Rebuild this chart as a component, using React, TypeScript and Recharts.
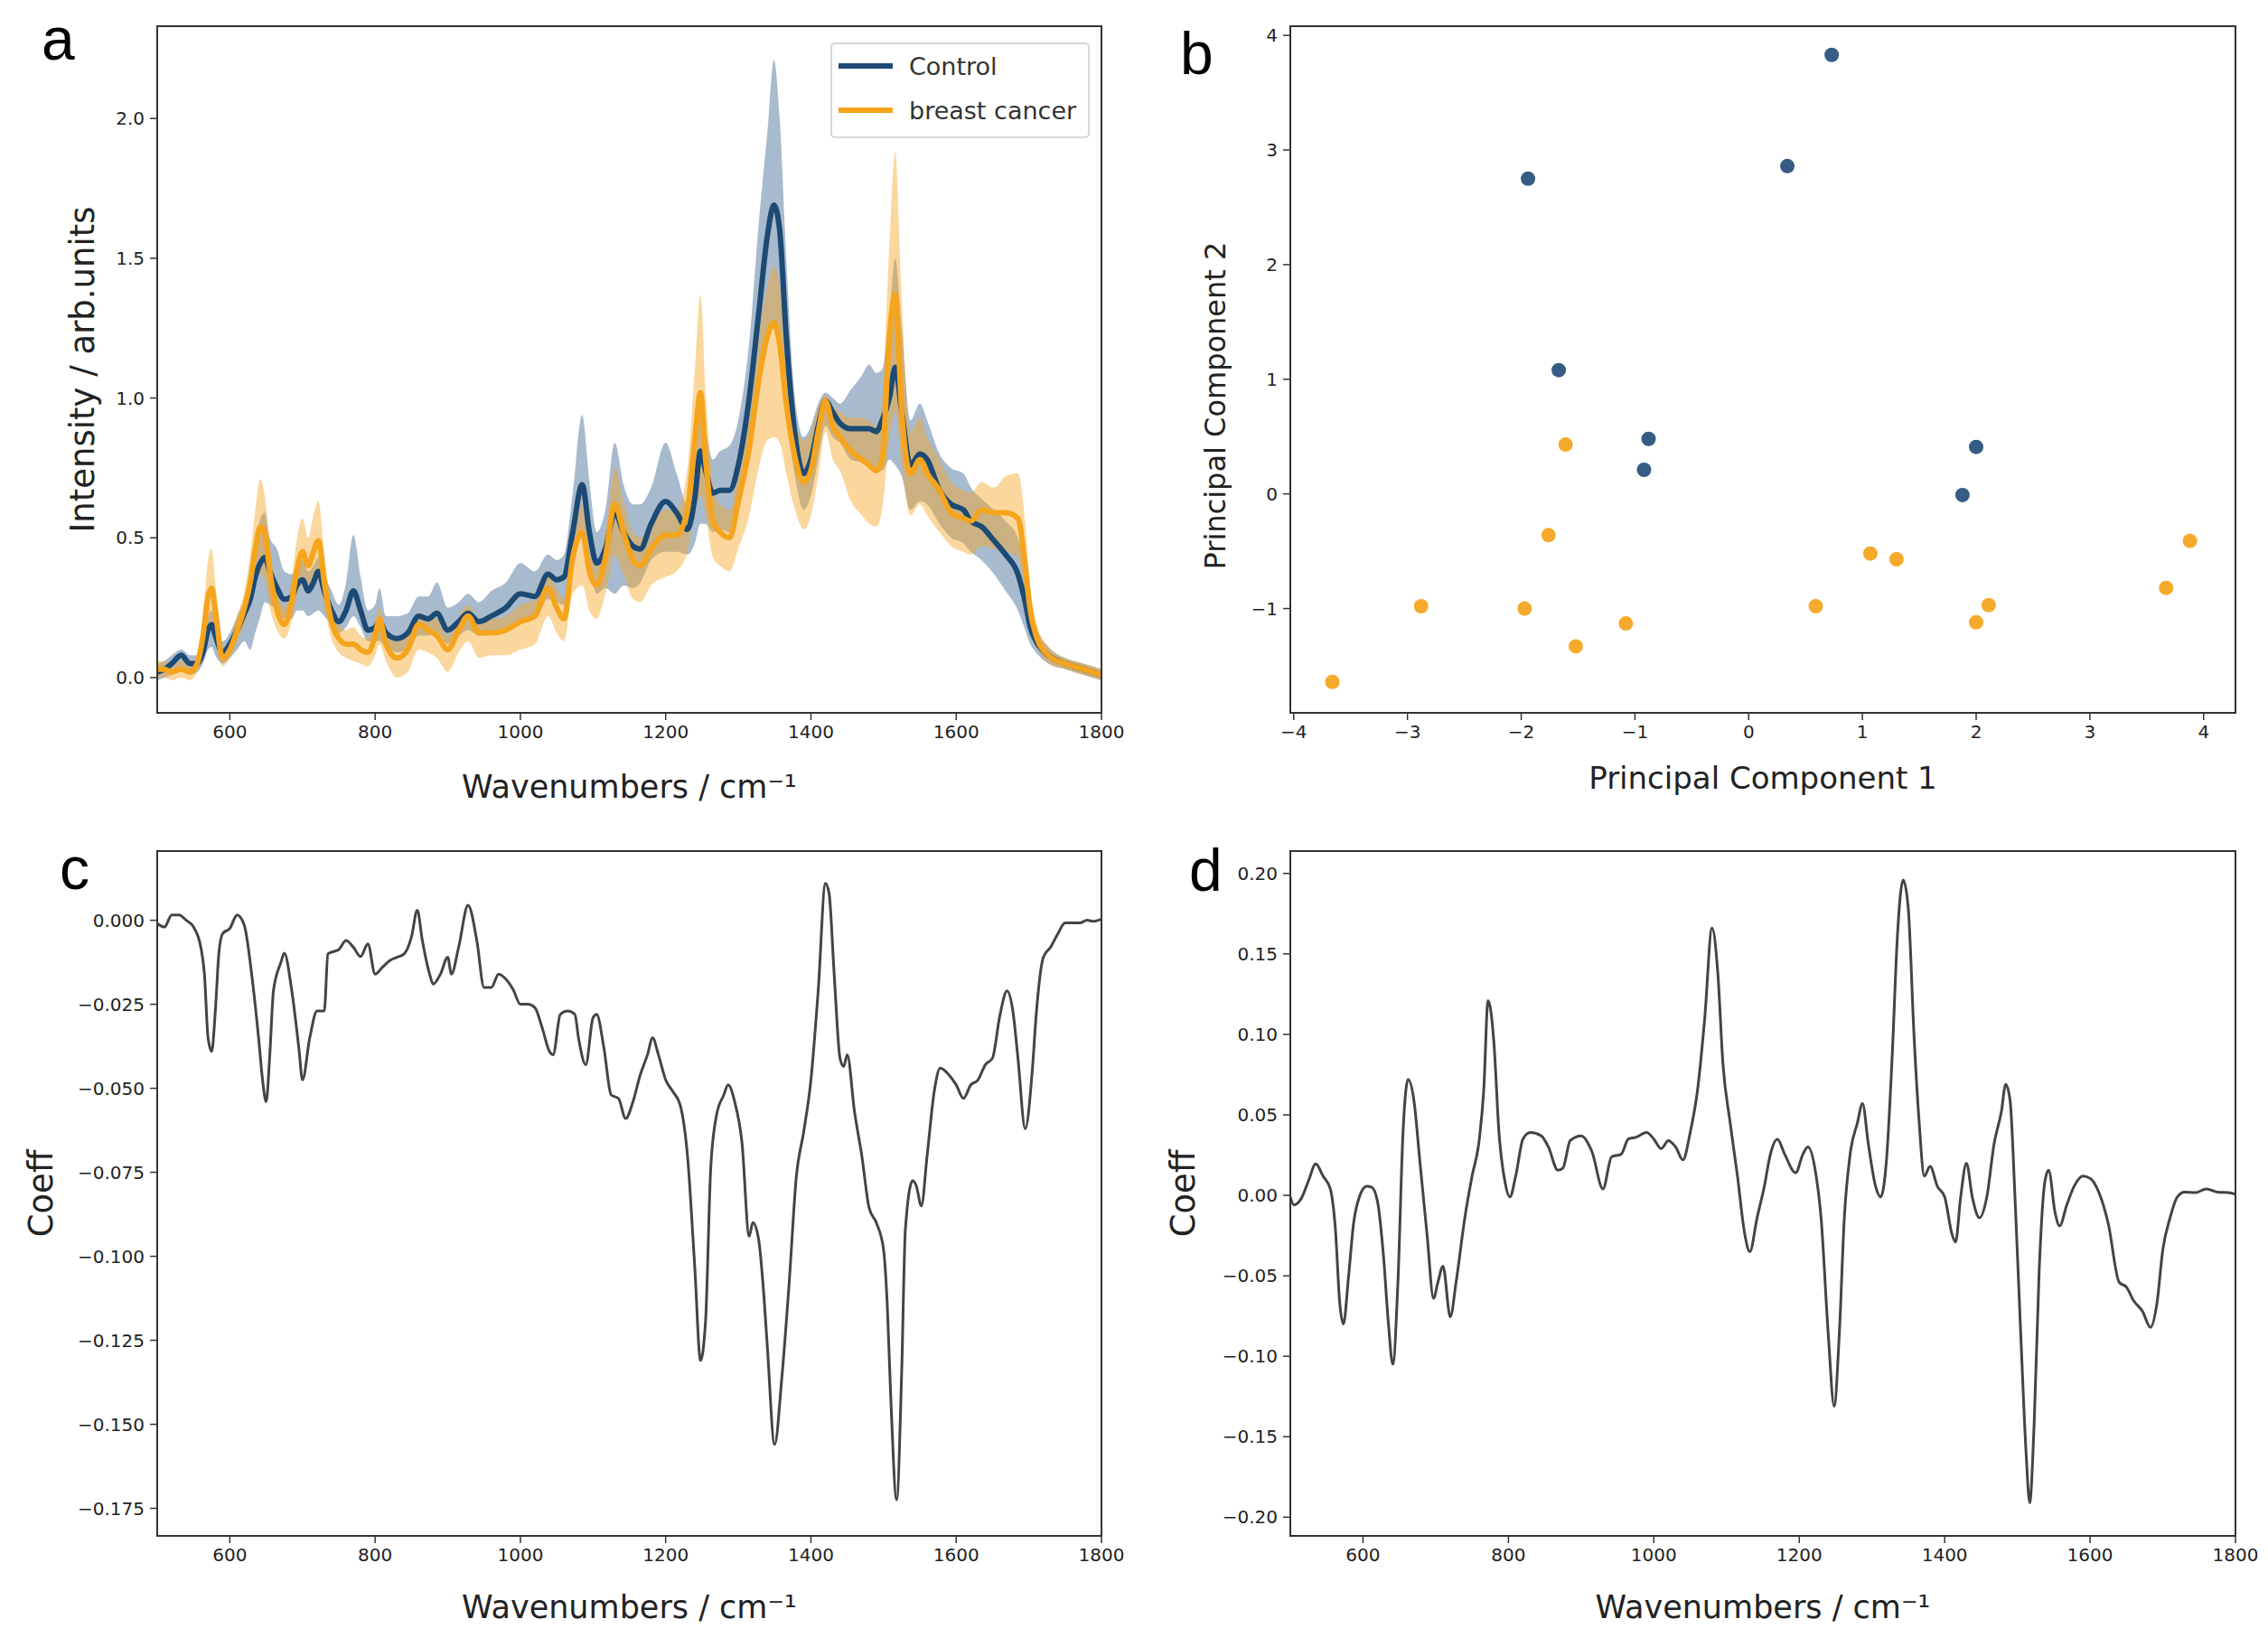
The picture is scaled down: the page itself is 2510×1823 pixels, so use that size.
import React from "react";
import {
  ComposedChart,
  LineChart,
  ScatterChart,
  Line,
  Area,
  Scatter,
  XAxis,
  YAxis,
  Label,
} from "recharts";

// ---- panel a: mean spectra with spread bands ----
const waveA = [
  500, 510, 520, 533, 545, 555, 563, 570, 575, 580,
  590, 600, 610, 620, 628, 635, 642, 648, 655, 665,
  675, 685, 692, 700, 708, 715, 722, 730, 740, 750,
  760, 770, 780, 790, 800, 806, 815, 830, 845, 860,
  873, 885, 900, 915, 928, 943, 960, 980, 1000, 1020,
  1038, 1050, 1060, 1072, 1085, 1095, 1105, 1117, 1130, 1142,
  1155, 1165, 1180, 1200, 1215, 1230, 1240, 1248, 1255, 1265,
  1275, 1288, 1300, 1315, 1328, 1340, 1349, 1357, 1366, 1378,
  1390, 1400, 1410, 1420, 1430, 1440, 1455, 1470, 1480, 1490,
  1498, 1508, 1516, 1525, 1537, 1550, 1560, 1577, 1593, 1610,
  1620, 1635, 1652, 1668, 1685, 1695, 1702, 1710, 1727, 1750,
  1775, 1800,
];
const controlMean = [
  0.02, 0.03, 0.05, 0.08, 0.05, 0.05, 0.09, 0.17, 0.19, 0.15,
  0.09, 0.12, 0.17, 0.23, 0.28, 0.36, 0.41, 0.43, 0.38, 0.32,
  0.28, 0.29, 0.33, 0.35, 0.31, 0.34, 0.38, 0.31, 0.24, 0.2,
  0.24, 0.31, 0.24, 0.17, 0.18, 0.2, 0.16, 0.14, 0.16, 0.22,
  0.21, 0.23, 0.17, 0.2, 0.23, 0.2, 0.22, 0.25, 0.3, 0.29,
  0.37, 0.35, 0.36, 0.52, 0.69, 0.52, 0.41, 0.46, 0.59, 0.52,
  0.47, 0.46, 0.55, 0.63, 0.59, 0.53, 0.64, 0.81, 0.74, 0.66,
  0.67, 0.67, 0.76, 1.0, 1.3, 1.58, 1.69, 1.6, 1.22, 0.87,
  0.73, 0.78, 0.9, 0.99, 0.95, 0.91, 0.89, 0.89, 0.89, 0.88,
  0.92, 1.0, 1.11, 0.95, 0.76, 0.8, 0.78, 0.67, 0.62, 0.6,
  0.56, 0.54, 0.49, 0.44, 0.37, 0.27, 0.18, 0.13, 0.08, 0.05,
  0.03, 0.01,
];
const controlLow = [
  -0.01, 0.0, 0.01, 0.04, 0.01, 0.02, 0.05, 0.1, 0.11, 0.08,
  0.05, 0.07, 0.1, 0.13, 0.1, 0.16, 0.22, 0.27, 0.26, 0.24,
  0.21, 0.21, 0.24, 0.24, 0.22, 0.23, 0.24, 0.22, 0.19, 0.16,
  0.18, 0.22, 0.18, 0.13, 0.13, 0.13, 0.11, 0.09, 0.1, 0.15,
  0.15, 0.16, 0.12, 0.15, 0.17, 0.15, 0.16, 0.18, 0.2, 0.21,
  0.28, 0.27, 0.26, 0.38, 0.51, 0.4, 0.3, 0.32, 0.3, 0.33,
  0.32, 0.34, 0.42, 0.45, 0.45, 0.44, 0.48, 0.55, 0.55, 0.52,
  0.53, 0.52, 0.6, 0.82, 1.05, 1.22, 1.25, 1.2, 0.95, 0.72,
  0.6, 0.65, 0.78, 0.9, 0.86, 0.84, 0.78, 0.77, 0.76, 0.75,
  0.74, 0.78, 0.76, 0.72, 0.6, 0.63, 0.62, 0.55, 0.5, 0.48,
  0.45, 0.42, 0.37, 0.31, 0.24, 0.17, 0.12, 0.09, 0.05, 0.03,
  0.01, -0.01,
];
const controlHigh = [
  0.05, 0.06, 0.08, 0.1, 0.08, 0.08, 0.13, 0.22, 0.24, 0.2,
  0.13, 0.16, 0.22, 0.28, 0.36, 0.48, 0.57, 0.59, 0.5, 0.46,
  0.38, 0.37, 0.4, 0.42, 0.38, 0.4, 0.43, 0.37, 0.31, 0.26,
  0.34, 0.51, 0.36, 0.24, 0.26, 0.32, 0.22, 0.22, 0.23, 0.29,
  0.29, 0.34, 0.25, 0.27, 0.3, 0.27, 0.31, 0.34, 0.41, 0.38,
  0.44, 0.42, 0.44, 0.66, 0.94, 0.7, 0.52, 0.6, 0.84, 0.69,
  0.62, 0.62, 0.68, 0.84, 0.73, 0.62, 0.78, 0.95, 0.88, 0.78,
  0.81, 0.83, 0.92, 1.2, 1.62, 1.95, 2.21, 2.0, 1.5, 1.0,
  0.86, 0.9, 0.98, 1.02, 1.0, 0.98, 1.03, 1.08, 1.12, 1.09,
  1.1, 1.3, 1.5, 1.25, 0.92, 0.98, 0.92, 0.8, 0.75, 0.73,
  0.68, 0.64, 0.6, 0.56, 0.5, 0.38, 0.26, 0.18, 0.11, 0.07,
  0.05, 0.03,
];
const cancerMean = [
  0.03, 0.03, 0.02, 0.03, 0.02, 0.05, 0.15, 0.29, 0.32, 0.24,
  0.07, 0.1, 0.17, 0.25, 0.34, 0.46, 0.54, 0.52, 0.38, 0.24,
  0.19, 0.27, 0.38, 0.45, 0.4, 0.45, 0.49, 0.34, 0.2, 0.14,
  0.12, 0.12, 0.1, 0.09, 0.15, 0.21, 0.12, 0.07, 0.1, 0.19,
  0.17, 0.15, 0.1, 0.17, 0.22, 0.16, 0.16, 0.17, 0.2, 0.22,
  0.32, 0.25, 0.21, 0.43, 0.52, 0.38, 0.33, 0.43, 0.62, 0.52,
  0.42, 0.4, 0.46, 0.51, 0.51, 0.6, 0.85, 1.02, 0.78, 0.56,
  0.52, 0.5, 0.63, 0.82, 1.06, 1.22, 1.27, 1.19, 0.98, 0.79,
  0.7, 0.74, 0.88, 0.99, 0.9, 0.86, 0.81, 0.78, 0.76, 0.74,
  0.78, 1.22, 1.37, 0.95, 0.73, 0.78, 0.73, 0.67, 0.59, 0.57,
  0.56, 0.6, 0.59, 0.59, 0.57, 0.4, 0.24, 0.15, 0.08, 0.05,
  0.03, 0.01,
];
const cancerLow = [
  0.0, 0.0, -0.01, 0.0, -0.01, 0.02, 0.08, 0.18, 0.19, 0.14,
  0.04, 0.07, 0.13, 0.19, 0.25, 0.33, 0.37, 0.35, 0.25, 0.17,
  0.14, 0.2, 0.29, 0.33, 0.3, 0.33, 0.35, 0.25, 0.14, 0.09,
  0.07, 0.06, 0.05, 0.04, 0.08, 0.12, 0.06, 0.0, 0.02, 0.1,
  0.09, 0.07, 0.02, 0.09, 0.13, 0.07, 0.08, 0.08, 0.1, 0.12,
  0.22, 0.16, 0.13, 0.3, 0.33, 0.24, 0.21, 0.3, 0.44, 0.37,
  0.28, 0.27, 0.33, 0.36, 0.38, 0.45, 0.6, 0.65, 0.58, 0.43,
  0.4, 0.38, 0.46, 0.58, 0.75, 0.85, 0.86, 0.84, 0.73, 0.6,
  0.53, 0.58, 0.72, 0.88, 0.78, 0.74, 0.63, 0.58, 0.55, 0.54,
  0.6, 0.85, 0.95, 0.76, 0.58, 0.62, 0.58, 0.52, 0.47, 0.45,
  0.44, 0.47, 0.46, 0.45, 0.43, 0.3, 0.16, 0.11, 0.05, 0.03,
  0.01, -0.01,
];
const cancerHigh = [
  0.06, 0.06, 0.05, 0.06, 0.05, 0.09, 0.22, 0.42, 0.46, 0.34,
  0.11, 0.14, 0.22, 0.31, 0.44, 0.6, 0.71, 0.65, 0.48, 0.31,
  0.25, 0.35, 0.49, 0.57, 0.5, 0.58, 0.63, 0.45, 0.26, 0.19,
  0.17, 0.18, 0.15, 0.14, 0.2, 0.25, 0.17, 0.13, 0.15, 0.22,
  0.22, 0.21, 0.15, 0.22, 0.26, 0.21, 0.21, 0.22, 0.26, 0.28,
  0.36, 0.32, 0.28, 0.48, 0.62, 0.45, 0.4, 0.52, 0.75, 0.63,
  0.52, 0.5, 0.55, 0.6, 0.6, 0.75, 1.1, 1.37, 1.02, 0.7,
  0.62, 0.6, 0.75, 0.98, 1.22, 1.4, 1.47, 1.4, 1.17, 0.92,
  0.85, 0.88, 0.97, 1.01, 0.97, 0.95, 0.93, 0.93, 0.92, 0.9,
  0.98, 1.55, 1.88, 1.35, 0.88, 0.93, 0.86, 0.78, 0.7, 0.67,
  0.66, 0.7, 0.68, 0.72, 0.73, 0.55, 0.32, 0.2, 0.11, 0.07,
  0.05, 0.03,
];

// ---- panel b: PCA scores ----
const controlPC1 = [0.73, 0.34, -1.94, -1.67, -0.88, -0.92, 2.0, 1.88];
const controlPC2 = [3.83, 2.86, 2.75, 1.08, 0.48, 0.21, 0.41, -0.01];
const cancerPC1 = [-1.61, -1.76, -2.88, -1.97, -1.52, -1.08, -3.66, 0.59, 1.07, 1.3, 2.0, 2.11, 3.67, 3.88];
const cancerPC2 = [0.43, -0.36, -0.98, -1.0, -1.33, -1.13, -1.64, -0.98, -0.52, -0.57, -1.12, -0.97, -0.82, -0.41];

// ---- panel c: coefficients ----
const waveC = [
  500, 510, 520, 530, 540, 550, 560, 565, 570, 575,
  580, 585, 590, 600, 610, 620, 630, 640, 645, 650,
  655, 660, 670, 675, 685, 695, 700, 710, 720, 730,
  735, 740, 750, 760, 770, 780, 790, 800, 810, 820,
  830, 840, 850, 858, 865, 875, 880, 890, 900, 905,
  915, 928, 940, 950, 960, 970, 980, 990, 1000, 1010,
  1020, 1030, 1040, 1045, 1055, 1065, 1075, 1080, 1090, 1100,
  1105, 1115, 1125, 1135, 1145, 1155, 1165, 1175, 1182, 1190,
  1200, 1210, 1220, 1230, 1240, 1248, 1255, 1262, 1270, 1280,
  1286, 1295, 1305, 1315, 1320, 1328, 1335, 1340, 1350, 1360,
  1370, 1380, 1390, 1400, 1410, 1420, 1425, 1432, 1440, 1445,
  1450, 1460, 1470, 1480, 1490, 1500, 1505, 1510, 1518, 1525,
  1530, 1540, 1545, 1552, 1560, 1570, 1578, 1590, 1600, 1610,
  1620, 1630, 1640, 1650, 1660, 1670, 1678, 1685, 1695, 1705,
  1710, 1720, 1730, 1740, 1750, 1760, 1770, 1780, 1790, 1800,
];
const coeffC = [
  -0.001, -0.002, 0.0016, 0.0016, 0, -0.002, -0.008, -0.016, -0.035, -0.039,
  -0.027, -0.0095, -0.004, -0.0024, 0.0016, -0.0016, -0.016, -0.036, -0.0475, -0.054,
  -0.04, -0.021, -0.0127, -0.0098, -0.0206, -0.038, -0.0475, -0.035, -0.027, -0.027,
  -0.01, -0.0095, -0.0087, -0.006, -0.008, -0.0108, -0.007, -0.016, -0.014, -0.012,
  -0.011, -0.01, -0.005, 0.003, -0.006, -0.016, -0.019, -0.016, -0.011, -0.016,
  -0.008, 0.0045, -0.006, -0.02, -0.02, -0.016, -0.0175, -0.0206, -0.025, -0.025,
  -0.026, -0.032, -0.039, -0.04, -0.028, -0.027, -0.028, -0.035, -0.043, -0.029,
  -0.028, -0.038, -0.052, -0.053, -0.059, -0.054, -0.046, -0.04, -0.035, -0.04,
  -0.0475, -0.051, -0.055, -0.07, -0.103, -0.131, -0.119, -0.074, -0.058, -0.052,
  -0.049, -0.054, -0.066, -0.094, -0.09, -0.095, -0.111, -0.127, -0.156, -0.136,
  -0.108, -0.076, -0.063, -0.0475, -0.021, 0.011, 0.008, -0.016, -0.041, -0.0435,
  -0.04, -0.057, -0.07, -0.0855, -0.09, -0.098, -0.114, -0.1425, -0.1725, -0.134,
  -0.092, -0.0775, -0.079, -0.085, -0.07, -0.0506, -0.044, -0.046, -0.049, -0.053,
  -0.049, -0.0475, -0.043, -0.041, -0.0285, -0.021, -0.027, -0.041, -0.062, -0.044,
  -0.0285, -0.011, -0.008, -0.004, -0.0008, -0.0008, -0.0008, 0, -0.0003, 0.0003,
];

// ---- panel d: coefficients ----
const waveD = [
  500, 505, 515, 525, 535, 545, 555, 562, 568, 573,
  580, 587, 595, 605, 612, 620, 628, 635, 641, 648,
  655, 662, 670, 678, 688, 697, 703, 710, 720, 728,
  740, 750, 760, 766, 772, 780, 787, 795, 802, 810,
  820, 830, 845, 855, 868, 875, 885, 900, 915, 930,
  942, 955, 965, 975, 990, 1000, 1010, 1020, 1030, 1040,
  1050, 1060, 1070, 1080, 1088, 1095, 1105, 1115, 1125, 1132,
  1142, 1152, 1160, 1170, 1180, 1195, 1205, 1212, 1222, 1230,
  1240, 1248, 1255, 1262, 1270, 1280, 1287, 1295, 1305, 1312,
  1320, 1328, 1335, 1343, 1350, 1358, 1365, 1372, 1380, 1390,
  1400, 1410, 1415, 1422, 1430, 1438, 1448, 1458, 1468, 1478,
  1484, 1490, 1497, 1505, 1512, 1517, 1523, 1530, 1538, 1543,
  1552, 1558, 1568, 1578, 1590, 1600, 1612, 1625, 1640, 1650,
  1660, 1672, 1683, 1692, 1700, 1710, 1720, 1730, 1745, 1760,
  1775, 1790, 1800,
];
const coeffD = [
  -0.001, -0.006, -0.002, 0.009, 0.0195, 0.012, 0.004, -0.021, -0.067, -0.08,
  -0.051, -0.0175, -0.001, 0.0056, 0.005, -0.004, -0.037, -0.08, -0.105, -0.054,
  0.039, 0.072, 0.059, 0.022, -0.024, -0.064, -0.054, -0.044, -0.0755, -0.054,
  -0.014, 0.012, 0.035, 0.065, 0.121, 0.095, 0.039, 0.009, -0.001, 0.012,
  0.035, 0.039, 0.037, 0.03, 0.0156, 0.017, 0.034, 0.037, 0.027, 0.004,
  0.024, 0.0255, 0.035, 0.036, 0.039, 0.035, 0.029, 0.034, 0.03, 0.022,
  0.039, 0.065, 0.11, 0.166, 0.138, 0.082, 0.045, 0.012, -0.024, -0.035,
  -0.014, 0.0056, 0.025, 0.0348, 0.0255, 0.014, 0.0255, 0.03, 0.0156, -0.014,
  -0.087, -0.131, -0.087, -0.014, 0.0255, 0.045, 0.057, 0.032, 0.0056, -0.001,
  0.022, 0.088, 0.161, 0.196, 0.178, 0.098, 0.045, 0.012, 0.018, 0.0056,
  -0.001, -0.024, -0.029, -0.001, 0.02, -0.001, -0.014, -0.001, 0.032, 0.052,
  0.069, 0.059, -0.004, -0.09, -0.16, -0.191, -0.143, -0.047, 0.009, 0.0156,
  -0.011, -0.019, -0.006, 0.0056, 0.012, 0.0106, 0.002, -0.0175, -0.054, -0.057,
  -0.0655, -0.072, -0.082, -0.067, -0.034, -0.014, -0.001, 0.002, 0.0017, 0.004,
  0.002, 0.0017, 0.0007,
];

// ---- ticks ----
const waveTicks = [600, 800, 1000, 1200, 1400, 1600, 1800];
const intensityTicks = [0, 0.5, 1, 1.5, 2];
const pc1Ticks = [-4, -3, -2, -1, 0, 1, 2, 3, 4];
const pc2Ticks = [-1, 0, 1, 2, 3, 4];
const coeffCTicks = [0, -0.025, -0.05, -0.075, -0.1, -0.125, -0.15, -0.175];
const coeffDTicks = [0.2, 0.15, 0.1, 0.05, 0, -0.05, -0.1, -0.15, -0.2];

const FONT = '"DejaVu Sans", sans-serif';
const TICK = { fill: "#222", fontSize: 20, fontFamily: FONT };
const LABEL = { fill: "#222", fontSize: 35, fontFamily: FONT };
const CTRL = "#1c4a74";
const CANCER = "#f5a41c";

const minus = (s: string) => s.replace("-", "\u2212");

type Box = { x: number; y: number; w: number; h: number };
const boxA: Box = { x: 174, y: 29, w: 1045, h: 760 };
const boxB: Box = { x: 1428, y: 29, w: 1046, h: 760 };
const boxC: Box = { x: 174, y: 942, w: 1045, h: 758 };
const boxD: Box = { x: 1428, y: 942, w: 1046, h: 758 };

const YW = 160;
const XH = 110;
const MT = 20;

function place(b: Box, yw: number, mr: number) {
  return {
    style: { position: "absolute" as const, left: b.x - yw, top: b.y - MT },
    width: yw + b.w + mr,
    height: MT + b.h + XH,
    margin: { top: MT, right: mr, left: 0, bottom: 0 },
  };
}

const Frame = ({ b }: { b: Box }) => (
  <div
    style={{
      position: "absolute",
      left: b.x - 1,
      top: b.y - 1,
      width: b.w + 2,
      height: b.h + 2,
      border: "2px solid #333",
      boxSizing: "border-box",
      pointerEvents: "none",
    }}
  />
);

const tickLine = { stroke: "#333", strokeWidth: 1.5 };

const spectraData = waveA.map((wn, i) => ({
  wn,
  ctrl: controlMean[i],
  cancer: cancerMean[i],
  ctrlBand: [controlLow[i], controlHigh[i]],
  cancerBand: [cancerLow[i], cancerHigh[i]],
}));
const dataC = waveC.map((wn, i) => ({ wn, v: coeffC[i] }));
const dataD = waveD.map((wn, i) => ({ wn, v: coeffD[i] }));
const controlPts = controlPC1.map((x, i) => ({ x, y: controlPC2[i] }));
const cancerPts = cancerPC1.map((x, i) => ({ x, y: cancerPC2[i] }));

const WaveXAxis = (offset: number) => (
  <XAxis
    type="number"
    dataKey="wn"
    domain={[500, 1800]}
    ticks={waveTicks}
    allowDataOverflow
    interval={0}
    axisLine={false}
    tickLine={tickLine}
    tickSize={8}
    tickMargin={6}
    tick={TICK}
    height={XH}
  >
    <Label value="Wavenumbers / cm⁻¹" position="insideBottom" offset={offset} style={LABEL} />
  </XAxis>
);

const Dot = (color: string) => (props: any) => (
  <circle cx={props.cx} cy={props.cy} r={8} fill={color} />
);

// y title of panel b sits a little below the middle of the axis in the original
const PcYTitle = (props: any) => {
  const { x, y, height } = props.viewBox;
  const cx = x + 27;
  const cy = y + height / 2 + 40;
  return (
    <text
      x={cx}
      y={cy}
      transform={`rotate(-90 ${cx} ${cy})`}
      textAnchor="middle"
      dominantBaseline="central"
      fontFamily={FONT}
      fontSize={32}
      fill="#222"
    >
      Principal Component 2
    </text>
  );
};

const Legend = () => (
  <div
    style={{
      position: "absolute",
      left: 919,
      top: 47,
      width: 287,
      height: 106,
      border: "2px solid #d6d6d6",
      borderRadius: 5,
      background: "rgba(255,255,255,0.85)",
      boxSizing: "border-box",
      fontFamily: FONT,
      fontSize: 27,
      color: "#333",
    }}
  >
    {[
      { name: "Control", color: CTRL, top: 24 },
      { name: "breast cancer", color: CANCER, top: 73 },
    ].map((e) => (
      <div key={e.name} style={{ position: "absolute", left: 0, top: e.top - 18, height: 36, display: "flex", alignItems: "center" }}>
        <div style={{ marginLeft: 7, width: 60, height: 6, background: e.color }} />
        <span style={{ marginLeft: 18, whiteSpace: "nowrap" }}>{e.name}</span>
      </div>
    ))}
  </div>
);

export default function App() {
  const pa = place(boxA, YW, 45);
  const pb = place(boxB, 110, 30);
  const pc = place(boxC, YW, 45);
  const pd = place(boxD, YW, 30);
  return (
    <div style={{ position: "absolute", left: 0, top: 0, width: 2510, height: 1823, background: "#fff", overflow: "hidden" }}>
      {/* a */}
      <ComposedChart {...pa} data={spectraData}>
        {WaveXAxis(16)}
        <YAxis
          type="number"
          domain={[-0.126, 2.33]}
          ticks={intensityTicks}
          allowDataOverflow
          interval={0}
          axisLine={false}
          tickLine={tickLine}
          tickSize={8}
          tickMargin={6}
          tick={TICK}
          tickFormatter={(v: number) => v.toFixed(1)}
          width={YW}
        >
          <Label value="Intensity / arb.units" angle={-90} position="insideLeft" offset={77} style={{ ...LABEL, fontSize: 37, textAnchor: "middle" }} />
        </YAxis>
        <Area type="monotone" dataKey="ctrlBand" stroke="none" fill="#3d6690" fillOpacity={0.45} isAnimationActive={false} />
        <Area type="monotone" dataKey="cancerBand" stroke="none" fill="#f7a727" fillOpacity={0.45} isAnimationActive={false} />
        <Line type="monotone" dataKey="ctrl" stroke={CTRL} strokeWidth={6} dot={false} isAnimationActive={false} />
        <Line type="monotone" dataKey="cancer" stroke={CANCER} strokeWidth={6} dot={false} isAnimationActive={false} />
      </ComposedChart>
      <Frame b={boxA} />
      <Legend />

      {/* b */}
      <ScatterChart {...pb}>
        <XAxis
          type="number"
          dataKey="x"
          domain={[-4.03, 4.28]}
          ticks={pc1Ticks}
          allowDataOverflow
          interval={0}
          axisLine={false}
          tickLine={tickLine}
          tickSize={8}
          tickMargin={6}
          tick={TICK}
          tickFormatter={(v: number) => minus(String(v))}
          height={XH}
        >
          <Label value="Principal Component 1" position="insideBottom" offset={26} style={{ ...LABEL, fontSize: 34 }} />
        </XAxis>
        <YAxis
          type="number"
          dataKey="y"
          domain={[-1.91, 4.08]}
          ticks={pc2Ticks}
          allowDataOverflow
          interval={0}
          axisLine={false}
          tickLine={tickLine}
          tickSize={8}
          tickMargin={6}
          tick={TICK}
          tickFormatter={(v: number) => minus(String(v))}
          width={110}
        >
          <Label content={PcYTitle} />
        </YAxis>
        <Scatter data={controlPts} shape={Dot("#355c84")} isAnimationActive={false} />
        <Scatter data={cancerPts} shape={Dot("#f6aa2c")} isAnimationActive={false} />
      </ScatterChart>
      <Frame b={boxB} />

      {/* c */}
      <LineChart {...pc} data={dataC}>
        {WaveXAxis(19)}
        <YAxis
          type="number"
          domain={[-0.1832, 0.0206]}
          ticks={coeffCTicks}
          allowDataOverflow
          interval={0}
          axisLine={false}
          tickLine={tickLine}
          tickSize={8}
          tickMargin={6}
          tick={TICK}
          tickFormatter={(v: number) => minus(v.toFixed(3))}
          width={YW}
        >
          <Label value="Coeff" angle={-90} position="insideLeft" offset={31} style={{ ...LABEL, fontSize: 37, textAnchor: "middle" }} />
        </YAxis>
        <Line type="monotone" dataKey="v" stroke="#444" strokeWidth={3} dot={false} isAnimationActive={false} />
      </LineChart>
      <Frame b={boxC} />

      {/* d */}
      <LineChart {...pd} data={dataD}>
        {WaveXAxis(19)}
        <YAxis
          type="number"
          domain={[-0.2116, 0.2139]}
          ticks={coeffDTicks}
          allowDataOverflow
          interval={0}
          axisLine={false}
          tickLine={tickLine}
          tickSize={8}
          tickMargin={6}
          tick={TICK}
          tickFormatter={(v: number) => minus(v.toFixed(2))}
          width={YW}
        >
          <Label value="Coeff" angle={-90} position="insideLeft" offset={41} style={{ ...LABEL, fontSize: 37, textAnchor: "middle" }} />
        </YAxis>
        <Line type="monotone" dataKey="v" stroke="#444" strokeWidth={3} dot={false} isAnimationActive={false} />
      </LineChart>
      <Frame b={boxD} />

      {/* panel letters */}
      <svg width={2510} height={1823} style={{ position: "absolute", left: 0, top: 0, pointerEvents: "none" }}>
        <g fontFamily='"Liberation Sans", Arial, sans-serif' fontSize={66} fill="#000">
          <text x={46} y={66}>a</text>
          <text x={1306} y={82}>b</text>
          <text x={66} y={984}>c</text>
          <text x={1316} y={986}>d</text>
        </g>
      </svg>
    </div>
  );
}
